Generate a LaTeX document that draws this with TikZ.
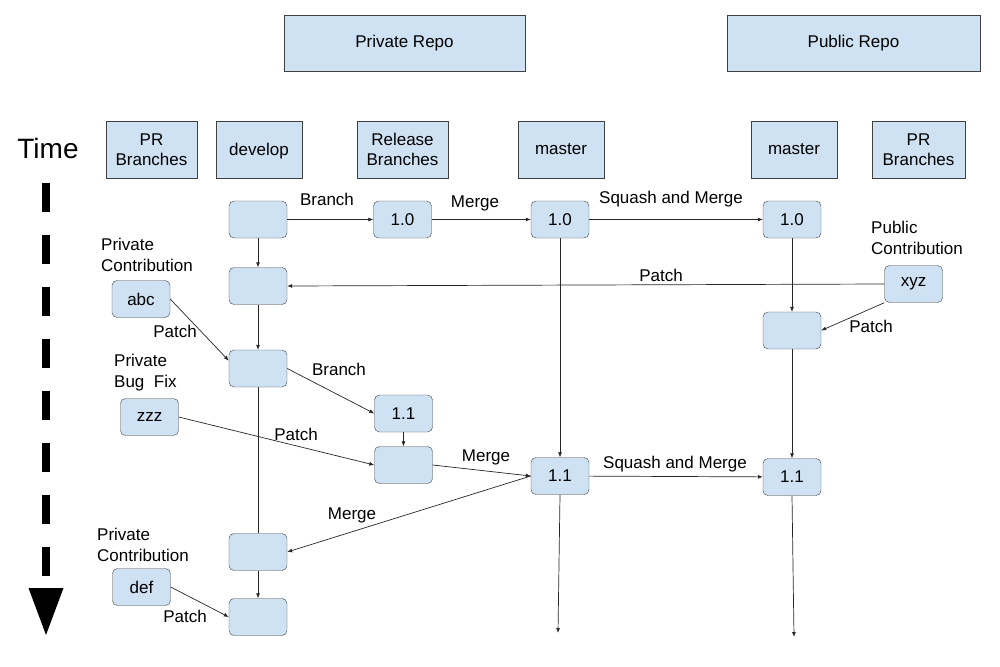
\documentclass[tikz,border=0pt]{standalone}
\usepackage{fontspec}
\setmainfont{Liberation Sans}
\usepackage{tikz}
\usetikzlibrary{arrows.meta,positioning}
\definecolor{commitblue}{HTML}{CFE2F3}

\begin{document}
\begin{tikzpicture}[x=1pt,y=-1pt,every node/.style={font=\fontsize{17}{20.5}\selectfont},
  head/.style={draw=black!75,fill=commitblue,align=center,minimum height=57pt,inner sep=2pt},
  commit/.style={draw=black!75,fill=commitblue,rounded corners=5pt,minimum width=58pt,minimum height=37pt,inner sep=2pt},
  lbl/.style={inner sep=1pt,align=left},
  flow/.style={-{Latex[length=5pt,width=4pt]},black!85,line width=0.7pt},
  plain/.style={black!85,line width=0.7pt}]
  \useasboundingbox (0,0) rectangle (1000,666);
  % repos and columns
  \node[head,minimum width=241pt,minimum height=56pt] (priv) at (404.5,43) {Private Repo};
  \node[head,minimum width=253pt,minimum height=56pt] (pub) at (853.5,43) {Public Repo};
  \node[head,minimum width=91pt] (hprb) at (151.5,149.5) {PR\\Branches};
  \node[head,minimum width=86pt,text depth=1pt] (hdev) at (259,149.5) {develop};
  \node[head,minimum width=91pt] (hrel) at (402.5,149.5) {Release\\Branches};
  \node[head,minimum width=86pt] (hmas) at (561,149.5) {master};
  \node[head,minimum width=86pt] (hpmas) at (794,149.5) {master};
  \node[head,minimum width=93pt] (hpprb) at (918.5,149.5) {PR\\Branches};
  % time axis
  \node[font=\fontsize{28}{30}\selectfont] (time) at (48,148) {Time};
  \draw[line width=8pt,dash pattern=on 29pt off 23pt] (46,183) -- (46,576);
  \fill (28.5,588) -- (63.5,588) -- (46,635) -- cycle;
  % commits
  \node[commit] (d1) at (258,219.5) {};
  \node[commit] (r10) at (402.5,219.5) {1.0};
  \node[commit] (m10) at (560,219.5) {1.0};
  \node[commit] (p10) at (792,219.5) {1.0};
  \node[commit] (d2) at (258,286) {};
  \node[commit] (abc) at (141,299) {abc};
  \node[commit] (xyz) at (913.5,284) {xyz};
  \node[commit] (p2) at (792,330.5) {};
  \node[commit] (d3) at (258,368.5) {};
  \node[commit] (r11) at (403.5,413.5) {1.1};
  \node[commit] (zzz) at (149.5,417) {zzz};
  \node[commit] (r12) at (403.5,465) {};
  \node[commit] (m11) at (560,476) {1.1};
  \node[commit] (p11) at (792,477) {1.1};
  \node[commit] (d4) at (258,552) {};
  \node[commit] (def) at (141.5,587) {def};
  \node[commit] (d5) at (258,617) {};
  \coordinate (mend) at (558,633);
  \coordinate (pend) at (794,637);
  % labels
  \node[lbl] (tbr1) at (327,199) {Branch};
  \node[lbl] (tmg1) at (475,203) {Merge};
  \node[lbl] (tsq1) at (671,199) {Squash and Merge};
  \node[lbl,anchor=west] (tpubc) at (870,238) {Public\\Contribution};
  \node[lbl] (tpt1) at (661,275) {Patch};
  \node[lbl,anchor=west] (tprivc1) at (100,255) {Private\\Contribution};
  \node[lbl] (tpt2) at (175,331) {Patch};
  \node[lbl] (tpt3) at (871,326) {Patch};
  \node[lbl] (tbr2) at (339,369) {Branch};
  \node[lbl,anchor=west] (tbug) at (113,372.5) {Private\\Bug\ \ Fix};
  \node[lbl] (tpt4) at (296,434) {Patch};
  \node[lbl] (tmg2) at (486,457) {Merge};
  \node[lbl] (tsq2) at (675,464) {Squash and Merge};
  \node[lbl] (tmg3) at (352,515) {Merge};
  \node[lbl,anchor=west] (tprivc2) at (96,545) {Private\\Contribution};
  \node[lbl] (tpt5) at (185,616) {Patch};
  % connectors
  \draw[flow] (d1) -- (r10); \draw[flow] (r10) -- (m10); \draw[flow] (m10) -- (p10);
  \draw[flow] (d1) -- (d2); \draw[flow] (d2) -- (d3); \draw[plain] (d3) -- (d4); \draw[flow] (d4) -- (d5);
  \draw[flow] (xyz.west) -- (d2.east); \draw[flow] (xyz.south west) -- (p2.east);
  \draw[flow] (p10) -- (p2); \draw[flow] (p2) -- (p11);
  \draw[flow] (abc.east) -- (d3.165);
  \draw[flow] (d3.east) -- (r11.west); \draw[flow] (r11) -- (r12);
  \draw[flow] (zzz.east) -- (r12.west);
  \draw[flow] (r12.east) -- (m11.west); \draw[flow] (m11.west) -- (d4.east);
  \draw[flow] (def.east) -- (d5.west);
  \draw[flow] (m10) -- (m11); \draw[flow] (m11) -- (p11);
  \draw[flow] (m11.south) -- (mend); \draw[flow] (p11.south) -- (pend);
\end{tikzpicture}
\end{document}
